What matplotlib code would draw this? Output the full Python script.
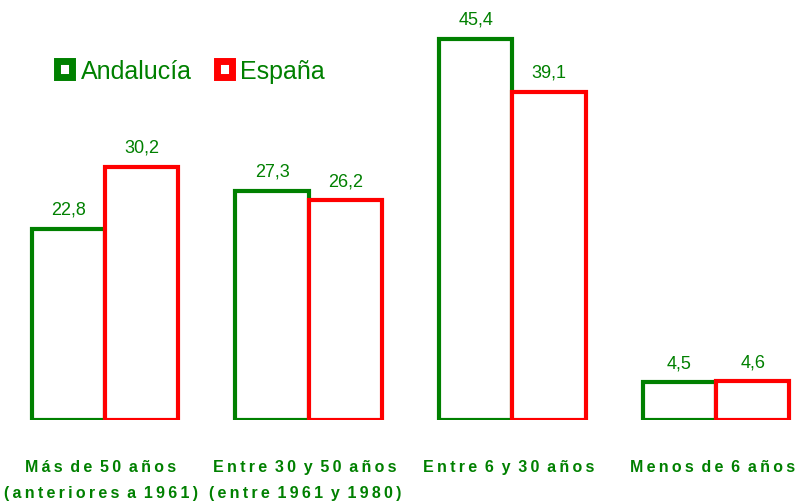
import matplotlib
matplotlib.use("Agg")
import matplotlib.pyplot as plt
import matplotlib.transforms as mtransforms
from matplotlib.patches import Patch
import numpy as np

categorias = ["Más de 50 años\n(anteriores a 1961)",
              "Entre 30 y 50 años\n(entre 1961 y 1980)",
              "Entre 6 y 30 años",
              "Menos de 6 años"]
andalucia = [22.8, 27.3, 45.4, 4.5]
espana = [30.2, 26.2, 39.1, 4.6]
etiquetas_and = ["22,8", "27,3", "45,4", "4,5"]
etiquetas_esp = ["30,2", "26,2", "39,1", "4,6"]

verde = "#008000"
rojo = "#FF0000"

plt.rcParams["font.family"] = ["Liberation Sans", "DejaVu Sans"]


def espaciado(texto):
    # letras separadas como en el original
    lineas = []
    for linea in texto.split("\n"):
        palabras = ["\u2009".join(p) for p in linea.split(" ")]
        lineas.append(" \u2009".join(palabras))
    return "\n".join(lineas)


fig = plt.figure(figsize=(8.07, 5.02), dpi=100)
ax = fig.add_axes([0, 81 / 502, 1, 419.5 / 502])

x = np.arange(len(categorias))
w = 0.36
ax.bar(x - w / 2, andalucia, w, facecolor="white", edgecolor=verde, linewidth=3, zorder=2)
ax.bar(x + w / 2, espana, w, facecolor="white", edgecolor=rojo, linewidth=3, zorder=3)

for i in range(len(x)):
    ax.annotate(etiquetas_and[i], (x[i] - w / 2, andalucia[i]), xytext=(0, 8),
                textcoords="offset points", ha="center", va="bottom",
                fontsize=13, color=verde)
    ax.annotate(etiquetas_esp[i], (x[i] + w / 2, espana[i]), xytext=(0, 8),
                textcoords="offset points", ha="center", va="bottom",
                fontsize=13, color=verde)

ax.set_xlim(-105 / 203.7, (807 - 105) / 203.7)
ax.set_ylim(0, 50)
ax.set_xticks(x)
ax.set_xticklabels([espaciado(c) for c in categorias], fontsize=11.5, fontweight="bold",
                   color=verde, linespacing=1.9, va="top")
ax.tick_params(axis="x", length=0, pad=28)
desplaza = mtransforms.ScaledTranslation(-4 / 100, 0, fig.dpi_scale_trans)
for lab in ax.get_xticklabels():
    lab.set_transform(lab.get_transform() + desplaza)
ax.set_yticks([])
for s in ax.spines.values():
    s.set_visible(False)

handles = [Patch(facecolor="white", edgecolor=verde, linewidth=5, label="Andalucía"),
           Patch(facecolor="white", edgecolor=rojo, linewidth=5, label="España")]
leg = ax.legend(handles=handles, loc="center left", bbox_to_anchor=(57 / 807, 0.832),
                ncol=2, frameon=False, fontsize=18, handlelength=0.6, handleheight=0.6,
                handletextpad=0.35, columnspacing=1.0, borderpad=0, borderaxespad=0)
for t in leg.get_texts():
    t.set_color(verde)

fig.savefig("out.png", dpi=100)
